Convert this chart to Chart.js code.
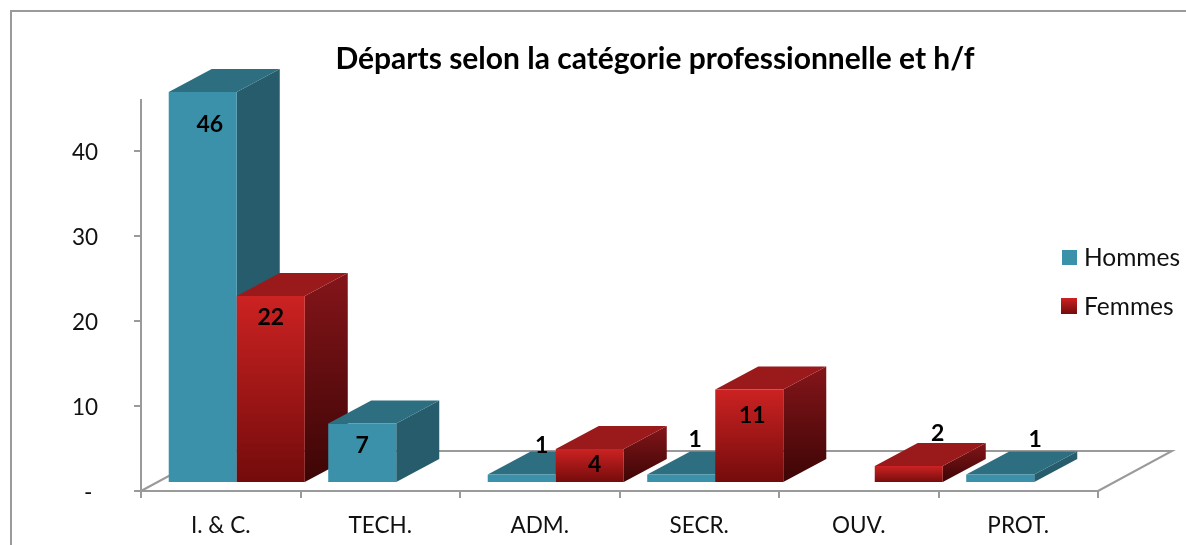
<!DOCTYPE html>
<html lang="fr">
<head>
<meta charset="UTF-8">
<title>Départs</title>
<script src="https://cdn.jsdelivr.net/npm/chart.js"></script>
<style>
    html, body { margin: 0; padding: 0; background: #fff; }
    #wrap { position: relative; width: 1186px; height: 545px; }
</style>
</head>
<body>
<div id="wrap"><canvas id="chart" width="1186" height="545"></canvas></div>
<script>
const categories = ['I. & C.', 'TECH.', 'ADM.', 'SECR.', 'OUV.', 'PROT.'];
const hommes = [46, 7, 1, 1, null, 1];
const femmes = [22, null, 4, 11, 2, null];
const seriesNames = ['Hommes', 'Femmes'];
const chartTitle = 'Départs selon la catégorie professionnelle et h/f';

// hand placed data labels in the original, offset from the centre of the bar top
const labelOffsets = [
    [[7, 33], [0, 22], [20, -29], [14, -35], null, [35, -35]],
    [[0, 22], null, [5, 16], [3, 26], [29, -32], null]
];

const FONT = 'Lato, sans-serif';
const GREY = '#9a9a9a';
const SHIFT = { x: 16, y: -8 };   // bars stand a little inside the floor
const DEPTH = { x: 43, y: -23 };  // depth of a bar
const FLOOR = { x: 74, y: -40 };  // depth of the floor

function redGradient(ctx, top, bottom, c1, c2) {
    const g = ctx.createLinearGradient(0, top, 0, bottom);
    g.addColorStop(0, c1);
    g.addColorStop(1, c2);
    return g;
}

function frontColor(context) {
    const chart = context.chart;
    if (context.raw == null || !chart.scales.y) return '#c82020';
    const y = chart.scales.y;
    const top = y.getPixelForValue(context.raw), bottom = y.getPixelForValue(0);
    if (!isFinite(top) || !isFinite(bottom)) return '#c82020'; // not laid out yet
    return redGradient(chart.ctx, top, bottom, '#cc2222', '#730b0b');
}

function poly(ctx, pts, fill) {
    ctx.beginPath();
    pts.forEach((p, i) => i ? ctx.lineTo(p[0], p[1]) : ctx.moveTo(p[0], p[1]));
    ctx.closePath();
    ctx.fillStyle = fill;
    ctx.fill();
}

const fake3d = {
    id: 'fake3d',
    afterLayout(chart) {
        // title sits right of the page centre in the original
        chart.titleBlock.left += 106;
        chart.titleBlock.right += 106;
    },
    beforeDraw(chart) {
        const ctx = chart.ctx;
        ctx.save();
        ctx.strokeStyle = GREY;
        ctx.lineWidth = 2;
        ctx.beginPath();
        ctx.moveTo(11, 545);
        ctx.lineTo(11, 11);
        ctx.lineTo(1186, 11);
        ctx.stroke();
        ctx.restore();
    },
    beforeDatasetsDraw(chart) {
        const ctx = chart.ctx;
        const a = chart.chartArea;

        // floor
        ctx.save();
        ctx.strokeStyle = GREY;
        ctx.lineWidth = 2;
        ctx.beginPath();
        ctx.moveTo(a.left, a.bottom);
        ctx.lineTo(a.left + FLOOR.x, a.bottom + FLOOR.y);
        ctx.lineTo(a.right + FLOOR.x, a.bottom + FLOOR.y);
        ctx.lineTo(a.right, a.bottom);
        ctx.stroke();
        ctx.restore();

        // bars left to right so that each one hides the side of the one before
        const bars = [];
        chart.data.datasets.forEach((ds, i) => {
            chart.getDatasetMeta(i).data.forEach((el, j) => {
                if (ds.data[j] != null) bars.push({ el, i, j });
            });
        });
        bars.sort((p, q) => p.el.x - q.el.x);

        ctx.save();
        ctx.translate(SHIFT.x, SHIFT.y);
        bars.forEach(({ el, i }) => {
            const l = el.x - el.width / 2, r = el.x + el.width / 2, t = el.y, b = el.base;
            const dx = DEPTH.x, dy = DEPTH.y;
            const side = i === 0 ? '#265c6b' : redGradient(ctx, t + dy, b, '#84151a', '#3d0505');
            poly(ctx, [[r, t], [r + dx, t + dy], [r + dx, b + dy], [r, b]], side);
            poly(ctx, [[l, t], [l + dx, t + dy], [r + dx, t + dy], [r, t]], i === 0 ? '#2d6e80' : '#9a1a1c');
            el.draw(ctx);
        });
        ctx.restore();

        // data labels
        ctx.save();
        ctx.font = 'bold 23px ' + FONT;
        ctx.fillStyle = '#000';
        ctx.textAlign = 'center';
        ctx.textBaseline = 'middle';
        bars.forEach(({ el, i, j }) => {
            const off = labelOffsets[i][j];
            ctx.fillText(chart.data.datasets[i].data[j], el.x + SHIFT.x + off[0], el.y + SHIFT.y + off[1]);
        });
        ctx.restore();

        // legend
        ctx.save();
        ctx.font = '24.5px ' + FONT;
        ctx.textBaseline = 'middle';
        ctx.fillStyle = '#3a91a9';
        ctx.fillRect(1062, 250, 15, 15);
        ctx.fillStyle = redGradient(ctx, 298, 314, '#cc2222', '#730b0b');
        ctx.fillRect(1061, 298, 16, 16);
        ctx.fillStyle = '#111';
        ctx.fillText(seriesNames[0], 1084, 258);
        ctx.fillText(seriesNames[1], 1084, 307);
        ctx.restore();

        return false;
    }
};

new Chart(document.getElementById('chart'), {
    type: 'bar',
    data: {
        labels: categories,
        datasets: [
            { label: seriesNames[0], data: hommes, backgroundColor: '#3a91a9' },
            { label: seriesNames[1], data: femmes, backgroundColor: frontColor }
        ]
    },
    plugins: [fake3d],
    options: {
        responsive: false,
        animation: false,
        categoryPercentage: 0.853,
        barPercentage: 1,
        layout: { padding: { left: 0, right: 88, top: 0, bottom: 0 } },
        plugins: {
            legend: { display: false },
            tooltip: { enabled: false },
            title: {
                display: true,
                text: chartTitle,
                color: '#000',
                font: { family: FONT, weight: 'bold', size: 30 },
                padding: { top: 41, bottom: 23 }
            }
        },
        scales: {
            x: {
                afterFit(scale) { scale.height = 54; },
                border: { color: GREY, width: 2 },
                grid: { drawOnChartArea: false, color: GREY, lineWidth: 2, tickLength: 7, tickWidth: 2, offset: true },
                ticks: { color: '#111', font: { family: FONT, size: 22.5 }, padding: 14, maxRotation: 0 }
            },
            y: {
                min: 0,
                max: 46,
                afterFit(scale) { scale.width = 141; },
                border: { color: GREY, width: 2 },
                grid: { drawOnChartArea: false, color: GREY, lineWidth: 2, tickLength: 7, tickWidth: 2 },
                ticks: {
                    stepSize: 10,
                    includeBounds: false,
                    color: '#111',
                    font: { family: FONT, size: 22.5 },
                    padding: 36,
                    labelOffset: 1.5,
                    callback: v => (v === 0 ? '- ' : v)
                }
            }
        }
    }
});
</script>
</body>
</html>
